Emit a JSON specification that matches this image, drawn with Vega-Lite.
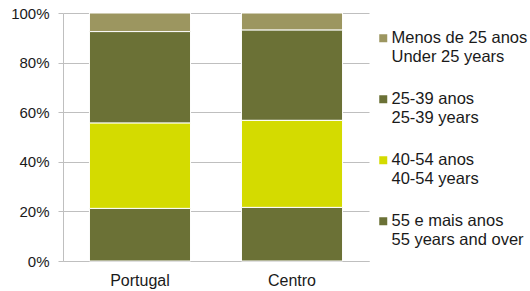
{
  "$schema": "https://vega.github.io/schema/vega-lite/v6.json",
  "width": 306,
  "height": 248,
  "autosize": {"type": "none"},
  "padding": {"left": 63, "top": 13, "right": 161, "bottom": 30},
  "background": "white",
  "config": {
    "view": {"stroke": null},
    "font": "Liberation Sans",
    "axis": {"labelFont": "Liberation Sans", "labelColor": "#1a1a1a"}
  },
  "data": {
    "values": [
      {"regiao": "Portugal", "grupo": "Menos de 25 anos|Under 25 years", "ordem": 4, "valor": 7.5},
      {"regiao": "Portugal", "grupo": "25-39 anos|25-39 years", "ordem": 3, "valor": 36.9},
      {"regiao": "Portugal", "grupo": "40-54 anos|40-54 years", "ordem": 2, "valor": 34.4},
      {"regiao": "Portugal", "grupo": "55 e mais anos|55 years and over", "ordem": 1, "valor": 21.2},
      {"regiao": "Centro", "grupo": "Menos de 25 anos|Under 25 years", "ordem": 4, "valor": 6.9},
      {"regiao": "Centro", "grupo": "25-39 anos|25-39 years", "ordem": 3, "valor": 36.4},
      {"regiao": "Centro", "grupo": "40-54 anos|40-54 years", "ordem": 2, "valor": 35.1},
      {"regiao": "Centro", "grupo": "55 e mais anos|55 years and over", "ordem": 1, "valor": 21.6}
    ]
  },
  "mark": {"type": "bar", "stroke": "white", "strokeWidth": 1},
  "encoding": {
    "x": {
      "field": "regiao",
      "type": "nominal",
      "sort": ["Portugal", "Centro"],
      "scale": {"paddingInner": 0.335, "paddingOuter": 0.174},
      "axis": {"title": null, "labelAngle": 0, "ticks": false, "domain": true, "domainColor": "#bfbfbf", "labelPadding": 11, "labelFontSize": 16}
    },
    "y": {
      "field": "valor",
      "type": "quantitative",
      "stack": "normalize",
      "scale": {"domain": [0, 1]},
      "axis": {
        "title": null,
        "format": ".0%",
        "values": [0, 0.2, 0.4, 0.6, 0.8, 1],
        "grid": true,
        "gridColor": "#bfbfbf",
        "domainColor": "#bfbfbf",
        "tickColor": "#bfbfbf",
        "tickSize": 5,
        "labelPadding": 9,
        "labelFontSize": 15
      }
    },
    "order": {"field": "ordem", "type": "quantitative", "sort": "ascending"},
    "color": {
      "field": "grupo",
      "type": "nominal",
      "sort": ["Menos de 25 anos|Under 25 years", "25-39 anos|25-39 years", "40-54 anos|40-54 years", "55 e mais anos|55 years and over"],
      "scale": {
        "domain": ["Menos de 25 anos|Under 25 years", "25-39 anos|25-39 years", "40-54 anos|40-54 years", "55 e mais anos|55 years and over"],
        "range": ["#9c9660", "#6b7136", "#d4db00", "#6b7136"]
      },
      "legend": {
        "title": null,
        "orient": "none",
        "legendX": 312,
        "legendY": 17,
        "padding": 0,
        "symbolType": "square",
        "symbolSize": 64,
        "symbolStrokeWidth": 0,
        "labelExpr": "split(datum.label, '|')",
        "labelFont": "Liberation Sans",
        "labelFontSize": 16.5,
        "labelColor": "#1a1a1a",
        "labelLineHeight": 18.5,
        "labelBaseline": "middle",
        "labelOffset": 0,
        "labelLimit": 200,
        "symbolOffset": 0,
        "rowPadding": 25
      }
    }
  }
}
